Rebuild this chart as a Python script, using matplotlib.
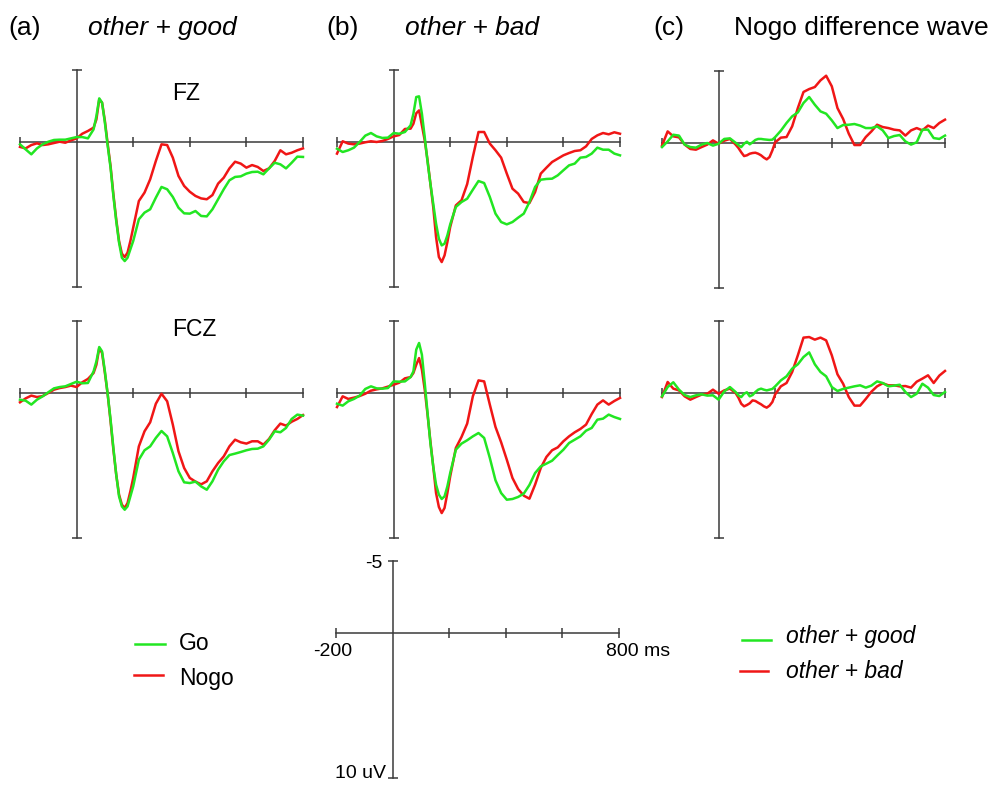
import numpy as np
import matplotlib
matplotlib.use('Agg')
import matplotlib.pyplot as plt

plt.rcParams['font.family'] = ['Liberation Sans', 'DejaVu Sans']

W, H = 996, 786
GREEN = '#22e622'
RED = '#f01616'
AXC = '#3a3a3a'

# time axis (ms); finer steps around the early peaks
time_ms = list(range(-200, 60, 20)) + list(range(60, 200, 10)) + list(range(200, 801, 20))

# ---- FZ (uV, negative up) ----
fz_good_go = [0.16, 0.51, 0.85, 0.44, 0.16, -0.02, -0.14, -0.16, -0.16, -0.25, -0.34, -0.34, -0.25,
              -0.87, -1.79, -3.01, -2.71, -1.33, 0.28, 1.77, 3.72, 5.45, 6.94, 7.98, 8.21, 7.98, 7.40,
              6.83, 5.33, 4.87, 4.64, 3.84, 3.10, 3.26, 3.79, 4.53, 4.92, 4.94, 4.76, 5.10, 5.13, 4.64, 3.95,
              3.26, 2.64, 2.41, 2.37, 2.18, 2.07, 2.05, 2.23, 1.82, 1.43, 1.54, 1.82, 1.43, 1.01, 1.03]
fz_good_nogo = [0.34, 0.44, 0.21, 0.09, 0.21, 0.16, 0.07, -0.02, 0.05, -0.11, -0.25, -0.57, -0.76,
                -0.99, -1.56, -2.94, -2.71, -1.45, 0.16, 1.66, 3.61, 5.33, 6.83, 7.70, 7.93, 7.63, 6.83,
                5.91, 4.07, 3.49, 2.57, 1.31, 0.16, 0.21, 1.08, 2.34, 3.03, 3.43, 3.72, 3.89, 3.95, 3.66, 2.87,
                2.46, 1.82, 1.36, 1.49, 1.77, 1.59, 1.72, 2.00, 1.82, 1.31, 0.57, 0.85, 0.74, 0.57, 0.44]
fz_bad_go = [0.46, 0.69, 0.57, 0.39, 0.00, -0.44, -0.62, -0.39, -0.28, -0.30, -0.62, -0.57, -0.69,
             -1.15, -1.95, -3.10, -3.15, -1.95, -0.34, 1.38, 2.87, 4.25, 5.63, 6.67, 7.13, 7.01, 6.44,
             5.68, 4.48, 4.14, 3.91, 3.29, 2.69, 2.83, 3.79, 4.94, 5.52, 5.68, 5.52, 5.22, 4.94, 4.14, 3.10,
             2.60, 2.55, 2.53, 2.30, 1.95, 1.61, 1.49, 1.08, 1.03, 0.80, 0.39, 0.53, 0.53, 0.80, 0.92]
fz_bad_nogo = [0.80, -0.05, 0.11, 0.16, 0.11, 0.02, -0.05, 0.00, -0.07, -0.21, -0.39, -0.48, -0.90,
               -0.92, -1.26, -1.98, -2.18, -1.15, -0.11, 1.26, 2.87, 4.48, 6.55, 7.93, 8.28, 7.82, 6.90,
               5.86, 4.37, 4.02, 2.90, 1.03, -0.69, -0.69, 0.11, 0.57, 1.08, 2.18, 3.22, 3.56, 4.14, 4.21, 3.45,
               2.18, 1.77, 1.38, 1.15, 0.92, 0.76, 0.62, 0.57, 0.30, -0.21, -0.46, -0.62, -0.53, -0.67, -0.57]
fz_diff_good = [0.28, -0.11, -0.57, -0.51, 0.11, 0.28, 0.32, 0.11, 0.00, 0.18, 0.05, -0.28, -0.32,
                -0.02, 0.14, 0.28, 0.05, -0.09, 0.09, -0.05, -0.21, -0.28, -0.28, -0.25, -0.23, -0.21, -0.23,
                -0.41, -0.85, -1.38, -1.84, -2.11, -2.76, -3.17, -2.64, -2.18, -2.02, -1.56, -1.03, -1.24, -1.26,
                -1.31, -1.20, -1.03, -1.03, -1.15, -0.87, -0.34, -0.48, -0.55, -0.11, 0.11, -0.05, -0.92, -0.92,
                -0.34, -0.28, -0.51]
fz_diff_bad = [0.18, -0.80, -0.46, -0.39, 0.11, 0.41, 0.46, 0.28, 0.11, -0.18, 0.05, -0.16, -0.28,
               0.11, 0.34, 0.64, 0.90, 0.85, 0.74, 0.69, 0.67, 0.74, 0.85, 1.01, 1.13, 0.97, 0.51,
               -0.05, -0.37, -0.41, -1.15, -2.41, -3.52, -3.72, -3.86, -4.32, -4.64, -3.91, -2.41, -1.66, -0.64,
               0.14, 0.14, -0.41, -0.80, -1.26, -1.10, -1.03, -0.92, -0.87, -0.51, -0.87, -1.03, -0.87, -1.20,
               -1.03, -1.38, -1.61]

# ---- FCZ ----
fcz_good_go = [0.46, 0.53, 0.80, 0.46, 0.23, -0.05, -0.32, -0.41, -0.46, -0.62, -0.78, -0.67, -0.69,
               -1.49, -2.18, -3.17, -2.87, -1.49, 0.11, 1.84, 3.79, 5.63, 7.13, 7.82, 8.05, 7.82, 7.13,
               6.44, 4.60, 3.95, 3.68, 3.10, 2.62, 2.99, 4.14, 5.40, 6.16, 6.21, 6.11, 6.44, 6.67, 6.09, 5.29,
               4.71, 4.28, 4.18, 4.07, 3.95, 3.86, 3.84, 3.68, 3.22, 2.64, 2.71, 2.41, 1.79, 1.49, 1.56]
fcz_good_nogo = [0.64, 0.37, 0.18, 0.28, 0.21, 0.00, -0.23, -0.34, -0.41, -0.51, -0.41, -0.74, -0.97,
                 -1.38, -1.95, -3.10, -2.76, -1.38, 0.11, 1.95, 3.91, 5.63, 7.01, 7.70, 7.93, 7.59, 6.78,
                 5.86, 3.68, 2.64, 2.02, 0.74, 0.05, 0.57, 2.18, 4.02, 5.17, 5.86, 6.11, 6.30, 6.09, 5.40, 4.83,
                 4.37, 3.68, 3.22, 3.40, 3.49, 3.33, 3.33, 3.56, 3.17, 2.57, 2.11, 2.25, 1.98, 1.79, 1.52]
fcz_bad_go = [0.74, 0.87, 0.57, 0.41, 0.18, -0.28, -0.46, -0.32, -0.30, -0.34, -0.80, -0.78, -0.80,
              -1.10, -1.49, -2.99, -3.45, -2.64, -0.69, 1.38, 3.45, 5.06, 6.32, 7.01, 7.31, 7.13, 6.44,
              5.52, 3.91, 3.49, 3.26, 2.99, 2.76, 3.10, 4.48, 6.02, 6.90, 7.36, 7.31, 7.17, 6.94, 6.34, 5.52,
              5.06, 4.87, 4.67, 4.28, 3.91, 3.45, 3.22, 2.99, 2.60, 2.41, 1.84, 1.77, 1.49, 1.66, 1.79]
fcz_bad_nogo = [0.97, 0.23, 0.41, 0.32, 0.21, 0.05, -0.16, -0.25, -0.32, -0.44, -0.57, -0.71, -1.01,
                -1.10, -1.38, -1.95, -2.41, -1.61, -0.23, 1.49, 3.33, 5.06, 6.90, 7.86, 8.28, 7.93, 6.90,
                5.75, 3.79, 3.03, 2.11, 0.23, -0.87, -0.80, 0.80, 2.34, 3.40, 4.60, 5.86, 6.62, 7.08, 7.29, 6.32,
                5.17, 4.41, 3.95, 3.75, 3.33, 2.99, 2.71, 2.48, 2.18, 1.45, 0.80, 0.51, 0.80, 0.55, 0.34]
fcz_diff_good = [0.23, -0.41, -0.74, -0.23, 0.14, 0.28, 0.16, 0.09, 0.18, 0.16, 0.46, -0.11, -0.41,
                 -0.07, 0.16, 0.28, 0.05, -0.05, 0.23, 0.14, -0.07, -0.23, -0.30, -0.23, -0.18, -0.23, -0.28,
                 -0.46, -0.87, -1.15, -1.68, -1.98, -2.48, -2.80, -1.98, -1.45, -1.15, -0.41, -0.14, -0.28, -0.37,
                 -0.46, -0.53, -0.37, -0.51, -0.80, -0.69, -0.46, -0.51, -0.57, -0.07, 0.28, 0.05, -0.64, -0.37,
                 0.14, 0.21, -0.07]
fcz_diff_bad = [0.28, -0.76, -0.30, -0.18, 0.23, 0.46, 0.28, 0.11, 0.05, -0.23, 0.05, -0.18, -0.30,
                0.00, 0.32, 0.74, 0.92, 0.83, 0.71, 0.51, 0.55, 0.67, 0.78, 0.92, 1.01, 0.87, 0.62,
                0.09, -0.46, -0.69, -1.45, -2.60, -3.82, -3.86, -3.68, -3.82, -3.63, -2.60, -1.29, -0.64, 0.28,
                0.87, 0.87, 0.41, -0.09, -0.46, -0.67, -0.53, -0.53, -0.46, -0.48, -0.37, -0.78, -0.99, -1.22,
                -0.69, -1.20, -1.52]

tick_ms = [-200, 200, 400, 600, 800]

fig = plt.figure(figsize=(W / 100, H / 100), dpi=100)


def erp_axes(left, baseline):
    # panel spans -200..800 ms (283 px) and -5..10 uV (217.5 px), negative up
    bottom = baseline + 145
    ax = fig.add_axes([left / W, 1 - bottom / H, 283 / W, 217.5 / H])
    ax.set_xlim(-200, 800)
    ax.set_ylim(10, -5)
    ax.axis('off')
    ax.plot([-200, 800], [0, 0], color=AXC, lw=1.1, clip_on=False)
    ax.plot(tick_ms, [0] * len(tick_ms), ls='none', marker='|', ms=7, mew=1.1,
            color=AXC, clip_on=False)
    ax.plot([0, 0], [-5, 10], color=AXC, lw=1.1, clip_on=False)
    ax.plot([0, 0], [-5, 10], ls='none', marker='_', ms=7, mew=1.1,
            color=AXC, clip_on=False)
    return ax


panels = [
    (20, 142, fz_good_nogo, fz_good_go),
    (337, 142, fz_bad_nogo, fz_bad_go),
    (662, 143, fz_diff_bad, fz_diff_good),
    (20, 393, fcz_good_nogo, fcz_good_go),
    (337, 393, fcz_bad_nogo, fcz_bad_go),
    (662, 393, fcz_diff_bad, fcz_diff_good),
]
for left, base, red, green in panels:
    ax = erp_axes(left, base)
    ax.plot(time_ms, red, color=RED, lw=1.8, solid_joinstyle='round', clip_on=False)
    ax.plot(time_ms, green, color=GREEN, lw=1.8, solid_joinstyle='round', clip_on=False)

# scale bar axes
erp_axes(336, 633)

# overlay in pixel coordinates for text and legend keys
ov = fig.add_axes([0, 0, 1, 1])
ov.set_xlim(0, W)
ov.set_ylim(H, 0)
ov.axis('off')

title_fs = 19
ov.text(8, 28, '(a)', fontsize=title_fs, va='center')
ov.text(88, 28, 'other + good', fontsize=title_fs, style='italic', va='center')
ov.text(326, 28, '(b)', fontsize=title_fs, va='center')
ov.text(405, 28, 'other + bad', fontsize=title_fs, style='italic', va='center')
ov.text(653, 28, '(c)', fontsize=title_fs, va='center')
ov.text(734, 28, 'Nogo difference wave', fontsize=title_fs, va='center')

ov.text(172, 94, 'FZ', fontsize=16.5, va='center')
ov.text(172, 330, 'FCZ', fontsize=16.5, va='center')

# scale labels
ov.text(383, 564, '-5', fontsize=14, ha='right', va='center')
ov.text(333, 652, '-200', fontsize=14, ha='center', va='center')
ov.text(606, 652, '800 ms', fontsize=14, ha='left', va='center')
ov.text(386, 774, '10 uV', fontsize=14, ha='right', va='center')

# legends
ov.plot([135, 165], [644, 644], color=GREEN, lw=1.8)
ov.text(179, 644, 'Go', fontsize=16.5, va='center')
ov.plot([134, 163], [675, 675], color=RED, lw=1.8)
ov.text(179, 678, 'Nogo', fontsize=16.5, va='center')

ov.plot([742, 771], [640, 640], color=GREEN, lw=1.8)
ov.text(786, 637, 'other + good', fontsize=16.5, style='italic', va='center')
ov.plot([740, 768], [671, 671], color=RED, lw=1.8)
ov.text(786, 672, 'other + bad', fontsize=16.5, style='italic', va='center')

fig.savefig('out.png', dpi=100)
